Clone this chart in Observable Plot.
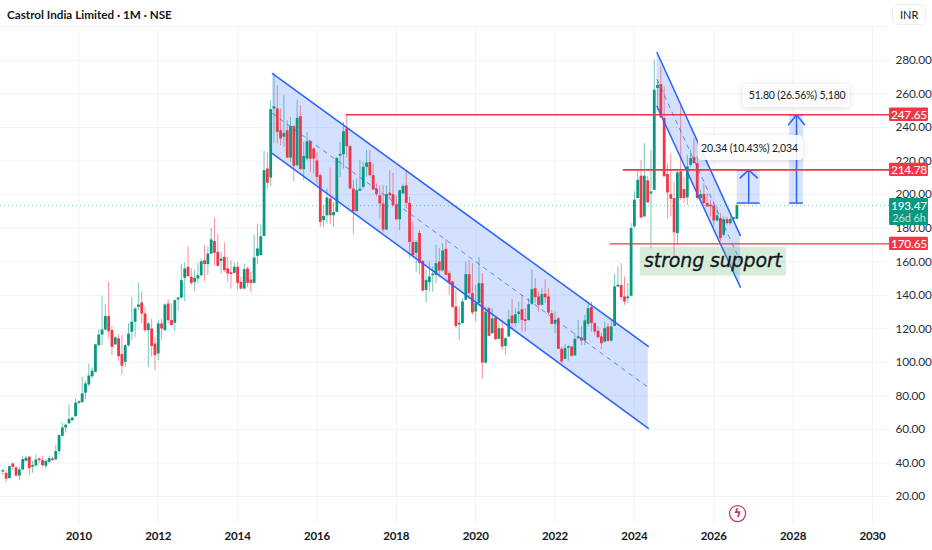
<!DOCTYPE html>
<html>
<head>
<meta charset="utf-8">
<script src="https://cdn.jsdelivr.net/npm/d3@7"></script>
<script src="https://cdn.jsdelivr.net/npm/@observablehq/plot@0.6"></script>
<style>
html,body{margin:0;padding:0;background:#fff;overflow:hidden}
#head{position:relative;height:26px;width:932px;box-sizing:border-box;}
#rule{position:absolute;left:0;top:26px;width:888px;height:1px;background:#f0f3fa}
#title{position:absolute;left:7px;top:7px;font:700 11.7px Lato,sans-serif;color:#131722;white-space:nowrap}
#inr{position:absolute;left:892px;top:4px;width:34px;height:21px;box-sizing:border-box;border:1px solid #eceef3;border-radius:5px;font:11px/19px Lato,sans-serif;color:#131722;padding-left:7px}
svg{display:block}
svg text{letter-spacing:-.15px}
.lblbox{filter:drop-shadow(0 1px 3px rgba(19,23,34,.16))}
</style>
</head>
<body>
<div id="head"><div id="title">Castrol India Limited · 1M · NSE</div><div id="inr">INR</div><div id="rule"></div></div>
<div id="chart"></div>
<script>
const titleText = "Castrol India Limited · 1M · NSE";
const firstYear = 2008;
const opens = [
34.6,33.8,30.7,39.4,37.0,32.2,35.8,41.0,43.4,37.4,
38.2,42.4,41.4,38.0,40.4,42.4,41.8,46.8,55.9,60.9,
63.3,65.2,67.6,75.4,76.0,81.6,86.5,91.5,94.1,110.0,
116.3,119.3,127.3,118.9,110.4,114.0,104.6,100.0,109.9,117.9,
123.9,132.8,135.4,128.8,118.9,119.9,110.9,105.0,122.9,118.9,
134.8,124.9,123.3,137.2,138.4,150.1,156.7,150.7,147.7,149.7,
151.7,160.6,158.3,164.6,172.0,165.6,160.2,162.6,155.7,153.4,
153.1,156.7,147.7,143.7,155.7,149.1,147.1,163.2,163.6,175.1,
215.3,209.9,251.1,251.1,238.1,234.2,238.1,221.8,240.7,217.3,
246.5,214.9,221.2,231.6,227.2,220.2,211.3,184.5,187.4,197.4,
187.4,189.4,223.0,223.8,239.1,228.6,203.3,189.8,202.0,204.3,
216.3,219.2,211.3,203.3,199.4,194.4,178.9,200.8,200.0,193.8,
185.0,200.4,205.3,194.8,171.5,165.0,176.9,160.2,142.9,147.5,
151.7,151.9,159.8,154.5,167.4,152.9,147.9,133.0,122.3,123.1,
137.0,152.3,141.0,130.0,135.0,146.9,99.6,132.0,117.1,126.4,
113.7,120.1,109.5,115.1,127.6,123.1,128.6,131.4,125.4,125.0,
134.6,143.9,139.0,134.0,140.6,139.0,129.0,122.7,126.0,107.8,
101.8,108.4,109.1,103.8,114.1,114.5,112.7,122.7,132.6,123.1,
118.5,115.1,112.1,121.1,112.7,121.5,144.9,145.8,139.0,137.9,
139.4,180.8,197.7,211.0,186.7,208.2,200.4,202.6,263.3,265.6,
245.4,212.0,200.0,197.7,176.8,213.6,203.0,198.1,217.5,222.1,
218.5,197.7,200.2,194.7,193.7,193.1,184.3,185.7,175.8,185.1,
182.7,185.2,185.3];
const highs = [
36.0,35.4,38.4,39.8,37.8,37.4,44.0,44.0,44.0,41.0,
44.8,43.0,43.8,41.8,43.8,43.4,50.3,56.9,63.7,63.3,
74.6,67.2,78.2,77.2,91.1,88.7,99.0,96.7,110.8,119.5,
139.4,134.8,147.6,121.3,115.4,116.5,115.9,110.9,122.9,138.8,
132.8,147.1,142.1,132.8,123.9,125.6,114.9,124.9,125.6,134.8,
137.2,134.8,137.2,138.4,158.6,159.2,169.0,155.7,154.7,159.2,
161.6,169.6,168.6,179.9,185.9,176.5,165.6,171.2,162.6,160.6,
159.2,159.6,150.7,158.6,156.7,153.7,176.1,182.5,181.9,225.8,
224.9,256.1,272.3,265.0,251.1,259.0,244.1,246.1,241.1,256.4,
253.0,231.2,237.1,232.2,228.2,224.8,212.3,193.4,203.3,215.9,
195.4,222.2,231.2,243.1,247.65,229.2,208.3,209.3,220.2,219.2,
226.2,226.2,218.2,206.3,205.3,205.3,205.3,214.3,212.7,199.4,
202.7,206.3,213.7,198.4,183.5,172.5,178.5,160.8,154.9,159.8,
156.9,169.8,167.8,170.8,173.2,153.9,148.3,142.9,133.0,138.0,
159.8,160.8,158.8,145.9,162.4,152.9,133.0,133.0,132.0,127.0,
124.1,125.0,114.7,131.0,137.4,132.0,136.0,140.0,132.0,138.0,
155.3,149.9,141.9,143.9,149.3,143.9,131.0,130.0,127.0,109.1,
110.7,110.1,109.5,117.1,125.0,121.1,128.0,136.0,136.0,123.5,
121.1,117.1,124.1,123.1,125.0,152.3,156.9,158.9,150.9,147.0,
182.7,201.6,214.2,220.5,230.5,211.0,226.5,280.2,268.2,276.2,
264.3,218.5,224.5,207.6,214.2,252.3,210.6,223.5,226.5,233.4,
222.5,202.6,206.6,200.6,196.7,195.7,192.7,188.7,186.7,186.7,
186.7,186.1,194.5];
const lows = [
32.4,28.5,30.3,35.4,31.5,29.5,35.4,40.4,32.4,33.8,
37.8,39.4,37.4,36.4,39.4,41.0,41.4,45.0,55.3,57.7,
63.3,64.9,67.2,75.2,75.6,77.6,85.1,90.1,93.5,109.0,
110.0,118.9,114.0,104.0,110.0,100.6,92.5,97.0,108.9,112.9,
114.9,130.8,122.9,117.9,97.0,103.0,95.0,101.0,112.9,118.5,
122.9,121.9,118.5,130.4,137.8,136.2,150.7,145.7,142.3,146.7,
150.7,148.3,151.7,164.2,157.7,156.7,152.7,153.7,147.7,143.7,
152.7,143.1,143.1,143.1,144.7,141.6,146.7,158.3,163.6,174.9,
203.4,204.8,230.6,230.2,229.2,228.2,221.8,219.2,207.7,216.3,
214.3,208.3,220.2,213.3,212.3,206.3,180.5,180.5,182.5,182.1,
180.9,189.4,210.3,215.3,221.8,203.3,176.5,189.8,202.0,203.3,
210.3,210.7,202.7,198.8,185.4,177.5,178.5,197.4,192.4,184.5,
178.5,200.4,191.4,161.6,162.6,153.6,152.2,142.1,135.4,141.9,
141.9,146.9,150.9,153.9,151.9,140.0,132.6,120.1,113.1,122.7,
137.0,137.0,128.0,124.1,135.0,89.9,98.8,115.1,116.5,113.1,
113.5,106.8,104.2,114.7,119.1,120.7,123.1,118.1,118.1,124.7,
134.0,135.0,130.0,133.4,135.0,128.0,122.1,117.1,107.8,99.6,
101.6,100.8,103.2,103.6,113.5,110.1,110.1,121.1,118.1,116.1,
114.1,107.6,111.5,112.1,112.1,121.1,144.6,137.0,134.0,135.0,
139.0,179.8,197.7,185.7,186.7,194.7,167.8,202.6,250.3,245.4,
210.6,185.7,186.7,163.3,169.8,196.7,194.7,193.7,216.5,218.5,
196.7,194.7,193.7,192.3,186.7,180.8,183.7,171.8,174.8,181.8,
181.8,183.7,184.9];
const closes = [
35.4,30.3,37.8,37.4,32.2,35.8,42.0,42.8,36.6,38.4,
41.8,41.4,38.4,41.0,42.6,41.4,46.8,56.3,60.9,62.5,
66.0,66.8,75.6,76.4,81.2,87.1,91.9,94.7,110.4,116.3,
119.3,127.3,118.3,109.0,114.6,103.4,97.7,109.9,116.9,123.9,
131.8,134.2,128.8,118.9,122.9,109.5,104.0,122.9,119.9,134.2,
124.9,121.9,136.8,138.4,148.7,155.7,151.1,147.1,150.1,151.7,
160.0,158.3,164.6,173.0,165.0,157.3,161.6,154.7,152.7,152.4,
156.7,147.1,143.7,155.3,147.1,147.1,162.2,167.6,174.9,214.3,
206.8,250.7,252.4,237.1,233.2,236.5,221.8,240.7,216.9,245.5,
214.9,222.8,231.6,221.2,221.2,210.3,183.5,187.0,198.0,187.4,
189.4,221.6,224.0,237.5,228.6,203.3,189.8,202.3,203.3,216.3,
218.8,211.3,202.7,200.0,194.4,178.9,200.0,199.4,193.4,185.0,
202.3,204.9,194.8,171.5,163.6,171.5,159.0,142.5,148.9,150.9,
152.7,158.8,154.5,166.4,151.9,146.9,132.6,121.5,123.3,136.0,
152.3,141.0,129.4,135.0,146.9,99.6,130.0,115.5,126.0,113.5,
120.1,109.1,114.1,125.4,123.1,128.4,130.0,125.0,124.4,134.4,
143.3,138.6,134.0,140.4,138.4,129.4,122.7,125.0,107.8,100.2,
108.2,109.4,103.6,113.7,115.1,112.7,124.7,132.0,123.1,118.1,
114.7,111.1,120.1,112.5,121.1,144.9,146.0,138.6,136.0,139.0,
179.8,196.7,208.6,186.1,211.0,195.1,201.6,262.3,265.2,245.8,
210.6,201.0,197.3,177.2,213.0,197.7,197.7,216.5,221.5,218.5,
197.7,200.0,194.7,192.7,192.7,184.3,187.3,173.8,185.1,182.7,
185.1,186.2,193.47];

const yearTicks = [2010,2012,2014,2016,2018,2020,2022,2024,2026,2028,2030];
const priceTicks = [20,40,60,80,100,120,140,160,180,200,220,240,260,280];
const lastPrice = 193.47;

// drawn channels
const ch1X = [2014.88, 2024.35], ch1Up = [272.2, 109.5], ch1Lo = [224.5, 60.6];
const ch2X = [2024.57, 2026.67], ch2Up = [284.8, 175.6], ch2Lo = [252.6, 144.8];
// horizontal levels
const levels = [247.65, 214.78, 170.65];
const levelStart = [2016.73, 2023.72, 2023.39];
const levelWidth = [1.6, 1.6, 1.2];
// measure tools
const mBottom = [195.0, 195.0], mTop = [214.78, 247.65];
const mX1 = [2026.59, 2027.91], mX2 = [2027.17, 2028.26];
const mLabels = ["20.34 (10.43%) 2,034", "51.80 (26.56%) 5,180"];
const mLabelX = [2026.90, 2028.10], mLabelY = [227.5, 258.8];
const mBoxX1 = [2025.61, 2026.74], mBoxX2 = [2028.26, 2029.44];
const mBoxY1 = [220.4, 252.0], mBoxY2 = [235.3, 265.7];
const axisEdge = 2030.43, axisBoxEnd = 2031.41;

const up = "#089981", down = "#f23645", blue = "#2962ff";
const candles = opens.map((o,k)=>({t:firstYear+(k+1)/12,o,h:highs[k],l:lows[k],c:closes[k],col:closes[k]>=o?up:down}));
const pair = (xs,ys)=>xs.map((x,i)=>({x,y:ys[i]}));
const chevron = (i,dx,dy)=>{const c=(mX1[i]+mX2[i])/2;return [{x:c-dx,y:mTop[i]-dy},{x:c,y:mTop[i]},{x:c+dx,y:mTop[i]-dy}];};
const font = 'Lato,sans-serif';

const plot = Plot.plot({
  width:932, height:524, marginTop:0, marginLeft:0, marginRight:43, marginBottom:26,
  style:{background:"transparent",fontFamily:font,overflow:"visible"},
  x:{domain:[2010,2030],range:[78.4,872],axis:null},
  y:{domain:[20,280],range:[470,34],axis:null},
  color:{type:"identity"},
  marks:[
    Plot.gridX(yearTicks,{stroke:"#f0f3fa",strokeOpacity:1}),
    Plot.gridY(priceTicks,{stroke:"#f0f3fa",strokeOpacity:1}),
    Plot.areaY(ch1X.map((x,i)=>({x,a:ch1Up[i],b:ch1Lo[i]})),{x:"x",y1:"a",y2:"b",fill:blue,fillOpacity:.2}),
    Plot.areaY(ch2X.map((x,i)=>({x,a:ch2Up[i],b:ch2Lo[i]})),{x:"x",y1:"a",y2:"b",fill:blue,fillOpacity:.2}),
    Plot.ruleY([lastPrice],{stroke:up,strokeOpacity:.55,strokeDasharray:"1,3"}),
    Plot.ruleX(candles,{x:"t",y1:"l",y2:"h",stroke:"col",strokeOpacity:.55,strokeWidth:1}),
    Plot.ruleX(candles,{x:"t",y1:"o",y2:"c",stroke:"col",strokeWidth:2.8}),
    Plot.line(pair(ch1X,ch1Up),{x:"x",y:"y",stroke:blue,strokeWidth:1.5}),
    Plot.line(pair(ch1X,ch1Lo),{x:"x",y:"y",stroke:blue,strokeWidth:1.5}),
    Plot.line(pair(ch1X,ch1Up.map((v,i)=>(v+ch1Lo[i])/2)),{x:"x",y:"y",stroke:blue,strokeWidth:1,strokeOpacity:.7,strokeDasharray:"4,5"}),
    Plot.line(pair(ch2X,ch2Up),{x:"x",y:"y",stroke:blue,strokeWidth:1.5}),
    Plot.line(pair(ch2X,ch2Lo),{x:"x",y:"y",stroke:blue,strokeWidth:1.5}),
    Plot.line(pair(ch2X,ch2Up.map((v,i)=>(v+ch2Lo[i])/2)),{x:"x",y:"y",stroke:blue,strokeWidth:1,strokeOpacity:.7,strokeDasharray:"4,5"}),
    Plot.axisX({ticks:yearTicks,tickFormat:"d",tickSize:0,tickPadding:7,fontSize:11.5,fontWeight:700,fill:"#131722",anchor:"bottom"}),
    Plot.axisY({ticks:priceTicks,tickFormat:".2f",tickSize:0,tickPadding:6,fontSize:11.8,fill:"#2a2e39",anchor:"right"}),
    // measures
    Plot.rect(mTop,{x1:(d,i)=>mX1[i],x2:(d,i)=>mX2[i],y1:(d,i)=>mBottom[i],y2:d=>d,fill:blue,fillOpacity:.18}),
    Plot.ruleY(mTop,{x1:(d,i)=>mX1[i],x2:(d,i)=>mX2[i],stroke:blue,strokeWidth:1.5}),
    Plot.ruleY(mBottom,{x1:(d,i)=>mX1[i],x2:(d,i)=>mX2[i],stroke:blue,strokeWidth:1.5}),
    Plot.ruleX(mTop,{x:(d,i)=>(mX1[i]+mX2[i])/2,y1:(d,i)=>mBottom[i],y2:d=>d,stroke:blue,strokeWidth:1.5}),
    Plot.line(chevron(0,0.215,4.8),{x:"x",y:"y",stroke:blue,strokeWidth:1.5}),
    Plot.line(chevron(1,0.2,6),{x:"x",y:"y",stroke:blue,strokeWidth:1.5}),
    // levels
    ...levels.map((v,i)=>Plot.ruleY([v],{x1:levelStart[i],x2:axisEdge,stroke:down,strokeWidth:levelWidth[i]})),
    // measure labels
    Plot.rect(mLabels,{x1:(d,i)=>mBoxX1[i],x2:(d,i)=>mBoxX2[i],y1:(d,i)=>mBoxY1[i],y2:(d,i)=>mBoxY2[i],fill:"#fff",fillOpacity:.9,rx:4,className:"lblbox"}),
    Plot.text(mLabels,{x:(d,i)=>mLabelX[i],y:(d,i)=>mLabelY[i],text:d=>d,fontSize:10.5,fill:"#131722"}),
    // strong support
    Plot.rect(["strong support"],{x1:2024.15,x2:2027.83,y1:151.5,y2:168.5,fill:"#4caf50",fillOpacity:.22}),
    Plot.text(["strong support"],{x:2025.98,y:160.2,text:d=>d,fontSize:19,fontStyle:"italic",fontFamily:'"DejaVu Sans",sans-serif',fill:"#131722",stroke:"#131722",strokeWidth:.3}),
    // price tags
    Plot.rect(levels,{x1:axisEdge,x2:axisBoxEnd,y1:d=>d-4,y2:d=>d+4,fill:down,rx:1}),
    Plot.text(levels,{x:(axisEdge+axisBoxEnd)/2,y:d=>d,text:d=>d.toFixed(2),fontSize:11.8,fontWeight:500,fill:"#fff"}),
    Plot.rect([lastPrice],{x1:axisEdge,x2:axisBoxEnd,y1:181.6,y2:197.7,fill:up,rx:1}),
    Plot.text([lastPrice],{x:(axisEdge+axisBoxEnd)/2,y:193.4,text:d=>d.toFixed(2),fontSize:11.8,fontWeight:500,fill:"#fff"}),
    Plot.text(["26d 6h"],{x:(axisEdge+axisBoxEnd)/2,y:185.8,text:d=>d,fontSize:11,fill:"#fff",fillOpacity:.75}),
    // event icon
    Plot.dot([2026.6],{x:d=>d,y:9.8,r:8,stroke:"#c2366b",strokeWidth:1.2,fill:"#fff"}),
    Plot.text(["ϟ"],{x:2026.6,y:9.8,text:d=>d,fontSize:12,fontWeight:700,fill:"#c2366b",fontFamily:'"DejaVu Sans",sans-serif'})
  ]
});
document.getElementById("chart").appendChild(plot);
</script>
</body>
</html>
